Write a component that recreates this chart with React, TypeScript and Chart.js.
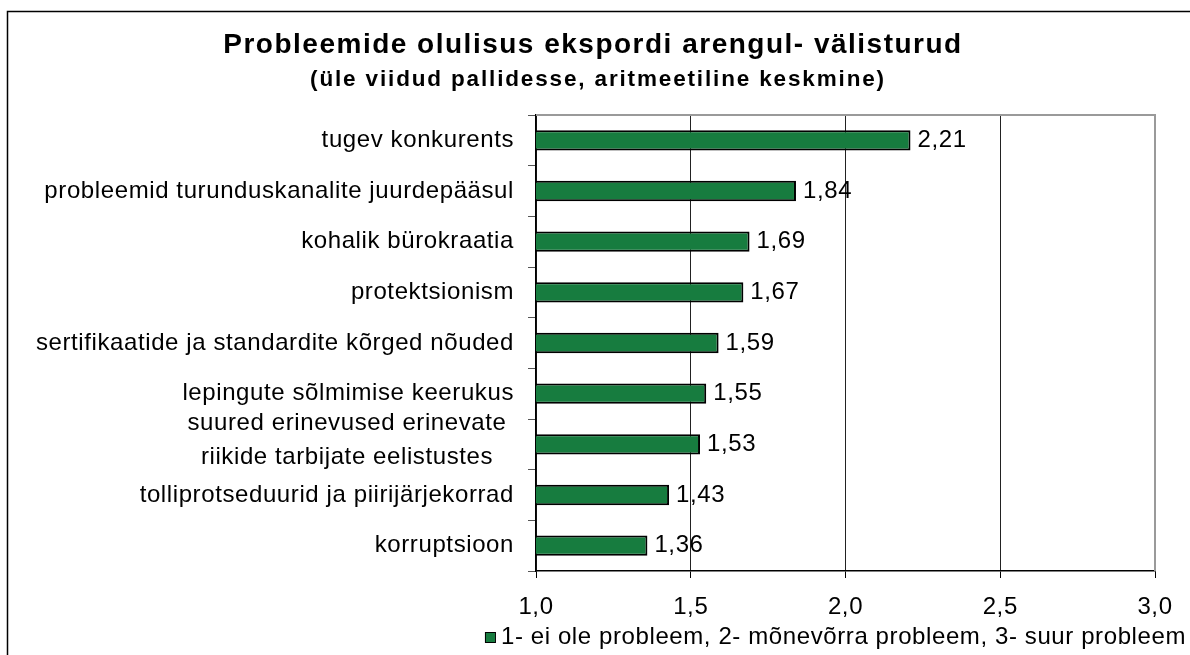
import React, { useEffect, useRef } from "react";
import { Chart, registerables } from "chart.js";
Chart.register(...registerables);

const categories: (string | string[])[] = [
  "tugev konkurents",
  "probleemid turunduskanalite juurdepääsul",
  "kohalik bürokraatia",
  "protektsionism",
  "sertifikaatide ja standardite kõrged nõuded",
  "lepingute sõlmimise keerukus",
  ["suured erinevused erinevate", "riikide tarbijate eelistustes"],
  "tolliprotseduurid ja piirijärjekorrad",
  "korruptsioon",
];
const values = [2.21, 1.84, 1.69, 1.67, 1.59, 1.55, 1.53, 1.43, 1.36];
const xTicks = [1.0, 1.5, 2.0, 2.5, 3.0];
const titleText = "Probleemide olulisus ekspordi arengul- välisturud";
const subtitleText = "(üle viidud pallidesse, aritmeetiline keskmine)";
const legendText = "1- ei ole probleem, 2- mõnevõrra probleem, 3- suur probleem";

const FONT = "'Liberation Sans', Arial, sans-serif";
const GREEN = "#177C3F";
const comma = (v: number, d: number) => v.toFixed(d).replace(".", ",");

const decorPlugin = {
  id: "decor",
  beforeDraw(chart: any) {
    const ctx = chart.ctx;
    ctx.save();
    ctx.fillStyle = "#fff";
    ctx.fillRect(0, 0, chart.width, chart.height);
    ctx.restore();
    (ctx as any).letterSpacing = "0.6px";
  },
  afterDraw(chart: any) {
    const { ctx, chartArea: a, scales } = chart;
    ctx.save();
    // outer frame
    ctx.strokeStyle = "#000";
    ctx.lineWidth = 1.5;
    ctx.beginPath();
    ctx.moveTo(7.5, chart.height);
    ctx.lineTo(7.5, 11.5);
    ctx.lineTo(chart.width, 11.5);
    ctx.stroke();
    // plot area border (top/right)
    ctx.strokeStyle = "#9a9a9a";
    ctx.lineWidth = 2;
    ctx.beginPath();
    ctx.moveTo(a.left, a.top);
    ctx.lineTo(a.right, a.top);
    ctx.lineTo(a.right, a.bottom);
    ctx.stroke();

    ctx.fillStyle = "#000";
    // title
    ctx.textAlign = "center";
    ctx.textBaseline = "alphabetic";
    ctx.font = `bold 28px ${FONT}`;
    ctx.letterSpacing = "1.5px";
    ctx.fillText(titleText, 593, 53);
    ctx.font = `bold 22.5px ${FONT}`;
    ctx.letterSpacing = "1.85px";
    ctx.fillText(subtitleText, 598, 86);

    // category labels
    ctx.font = `24px ${FONT}`;
    ctx.letterSpacing = "0.6px";
    ctx.textBaseline = "middle";
    const ys = scales.y;
    categories.forEach((lab, i) => {
      const yc = ys.getPixelForValue(i);
      if (Array.isArray(lab)) {
        ctx.textAlign = "center";
        const n = lab.length;
        lab.forEach((line, k) => {
          ctx.fillText(line, 347, yc - 4 + (k - (n - 1) / 2) * 34);
        });
      } else {
        ctx.textAlign = "right";
        ctx.fillText(lab, 514, yc);
      }
    });

    // value labels
    ctx.textAlign = "left";
    const meta = chart.getDatasetMeta(0);
    meta.data.forEach((bar: any, i: number) => {
      ctx.fillText(comma(values[i], 2), bar.x + 7, bar.y);
    });

    // legend
    ctx.textAlign = "right";
    ctx.fillText(legendText, 1186, 637);
    const w = ctx.measureText(legendText).width;
    const sx = 1186 - w - 16;
    ctx.fillStyle = GREEN;
    ctx.fillRect(sx, 632, 10, 10);
    ctx.strokeStyle = "#000";
    ctx.lineWidth = 1;
    ctx.strokeRect(sx + 0.5, 632.5, 10, 10);
    ctx.restore();
  },
};

export default function App() {
  const ref = useRef<HTMLCanvasElement>(null);
  useEffect(() => {
    const chart = new Chart(ref.current as HTMLCanvasElement, {
      type: "bar",
      data: {
        labels: categories as any,
        datasets: [
          {
            label: legendText,
            data: values,
            backgroundColor: GREEN,
            borderColor: "#000",
            borderWidth: 2,
            borderSkipped: false,
            barPercentage: 0.4,
            categoryPercentage: 1,
          },
        ],
      },
      options: {
        indexAxis: "y",
        responsive: false,
        animation: false,
        layout: { padding: { top: 115, right: 35, left: 0, bottom: 0 } },
        plugins: {
          legend: { display: false },
          title: { display: false },
          tooltip: { enabled: false },
        },
        scales: {
          x: {
            type: "linear",
            min: 1,
            max: 3,
            afterBuildTicks: (s: any) => {
              s.ticks = xTicks.map((v) => ({ value: v }));
            },
            ticks: {
              callback: (v: any) => comma(Number(v), 1),
              font: { family: FONT, size: 24 },
              color: "#000",
              padding: 15,
              maxRotation: 0,
            },
            grid: {
              color: (c: any) => (c.tick && c.tick.value >= 3 ? "#9a9a9a" : "#222"),
              lineWidth: 1,
              tickLength: 7,
              tickColor: "#000",
            },
            border: { color: "#000", width: 1.5 },
            afterFit: (s: any) => {
              s.height = 84;
            },
          },
          y: {
            ticks: { display: false },
            grid: { drawOnChartArea: false, tickLength: 8, color: "#555", offset: true },
            border: { color: "#000", width: 1.5 },
            afterFit: (s: any) => {
              s.width = 536;
            },
          },
        },
      } as any,
      plugins: [decorPlugin],
    });
    return () => chart.destroy();
  }, []);
  return (
    <div style={{ position: "absolute", left: 0, top: 0, width: 1190, height: 655, background: "#fff" }}>
      <canvas ref={ref} width={1190} height={655} style={{ display: "block" }} />
    </div>
  );
}
